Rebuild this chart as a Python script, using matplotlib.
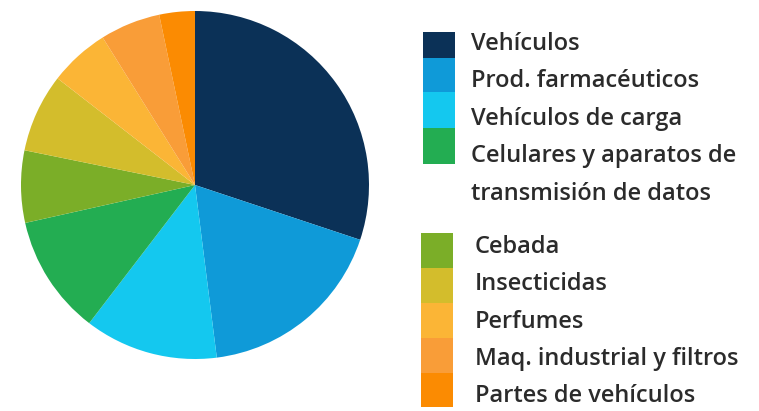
import matplotlib.pyplot as plt
from matplotlib.patches import Rectangle

plt.rcParams['font.family'] = ['Open Sans', 'DejaVu Sans']

labels = ["Vehículos", "Prod. farmacéuticos", "Vehículos de carga",
          "Celulares y aparatos de\ntransmisión de datos",
          "Cebada", "Insecticidas", "Perfumes",
          "Maq. industrial y filtros", "Partes de vehículos"]
shares = [30.1, 17.9, 12.4, 11.1, 6.7, 7.3, 5.6, 5.6, 3.3]
colors = ["#0b3157", "#0f9ad8", "#14c8ef", "#23ad52", "#7bae28",
          "#d3bd2c", "#fbb536", "#f99d38", "#fb8b02"]

W, H = 759, 411
fig = plt.figure(figsize=(W / 100, H / 100), dpi=100)

# pie: centre (195, 185) px, radius 174 px
cx, cy, r = 195, 185, 174
ax = fig.add_axes([(cx - r) / W, (H - cy - r) / H, 2 * r / W, 2 * r / H])
ax.pie(shares, colors=colors, startangle=90, counterclock=False,
       wedgeprops=dict(linewidth=0))
ax.set_xlim(-1, 1)
ax.set_ylim(-1, 1)
ax.set_aspect('equal')

# manual legend, two groups of stacked colour boxes
lg = fig.add_axes([0, 0, 1, 1])
lg.set_xlim(0, W)
lg.set_ylim(H, 0)
lg.axis('off')

groups = [
    # (box x, text x, top y, row heights, text y list, indices)
    (423, 471, 32, [26, 34, 36, 36], [44, 81, 119, 156], [0, 1, 2, 3]),
    (421, 475, 233, [35, 35, 35, 35, 34], [247, 284, 322, 359, 396], [4, 5, 6, 7, 8]),
]
for bx, tx, top, hs, tys, idx in groups:
    y = top
    for h, ty, i in zip(hs, tys, idx):
        lg.add_patch(Rectangle((bx, y), 32, h, color=colors[i], linewidth=0))
        y += h
        for k, line in enumerate(labels[i].split("\n")):
            lg.text(tx, ty + k * 38, line, fontsize=17, color="#2b2b2b",
                    va='center', ha='left', fontweight='semibold')

fig.savefig("out.png", dpi=100)
